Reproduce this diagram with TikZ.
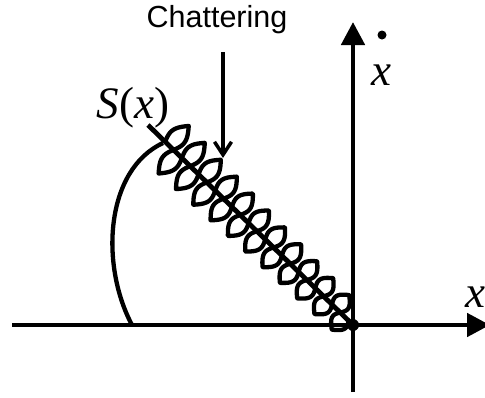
\documentclass[tikz,border=0pt]{standalone}
\usepackage{fontspec}
\setmainfont{Liberation Serif}
\newfontfamily\arialfont{Liberation Sans}
\usetikzlibrary{arrows.meta}
\begin{document}
\begin{tikzpicture}[x=1pt,y=-1pt,
  axisline/.style={line width=4.8pt,-{Triangle[length=23pt,width=23pt]}},
  plainline/.style={line width=4.8pt},
  curveline/.style={line width=4.3pt},
  labelbox/.style={inner sep=0pt,font=\fontsize{45}{48}\selectfont\itshape},
  pointer/.style={line width=3.5pt,-{Straight Barb[length=13pt,width=17pt,line width=3.5pt]}}]
\useasboundingbox (0,0) rectangle (485,397);
% named points
\coordinate (O) at (353,325);
\coordinate (xl) at (12,325);
\coordinate (xr) at (490,325);
\coordinate (yb) at (353,392);
\coordinate (yt) at (353,22);
\coordinate (sA) at (148,125);
\coordinate (arcB) at (132,325);
\coordinate (arcT) at (163,143);
\coordinate (pTop) at (223,52);
\coordinate (pTip) at (223,158);
% axes
\draw[axisline] (xl) -- (xr);
\draw[axisline] (yb) -- (yt);
% sliding line
\draw[plainline] (sA) -- (O);
% arc
\draw[curveline] (arcB) .. controls (100,265) and (105,170) .. (arcT);
% chattering
\draw[line width=4.3pt,line join=round] plot[domain=0:11,samples=1100,variable=\t]
  ({148 + (24 + 23.3*\t - 5.5*sin(720*\t))*0.716 + ((28 - 10*\t/11)*asin(sin(360*\t))/90)*0.698},
   {125 + (24 + 23.3*\t - 5.5*sin(720*\t))*0.698 - ((28 - 10*\t/11)*asin(sin(360*\t))/90)*0.716});
\fill (O) circle (6pt);
% labels
\node[labelbox,anchor=base] (S) at (133,118) {S\upshape(\itshape x\upshape)};
\node[labelbox,anchor=base] (xd) at (381,85) {x};
\fill (382,35) circle (4.5pt);
\node[labelbox,anchor=base west] (xh) at (465,307) {x};
\node[inner sep=0pt,anchor=base,font=\arialfont\fontsize{30.5}{34}\selectfont] (ch) at (217,27) {Chattering};
\draw[pointer] (pTop) -- (pTip);
\end{tikzpicture}
\end{document}
